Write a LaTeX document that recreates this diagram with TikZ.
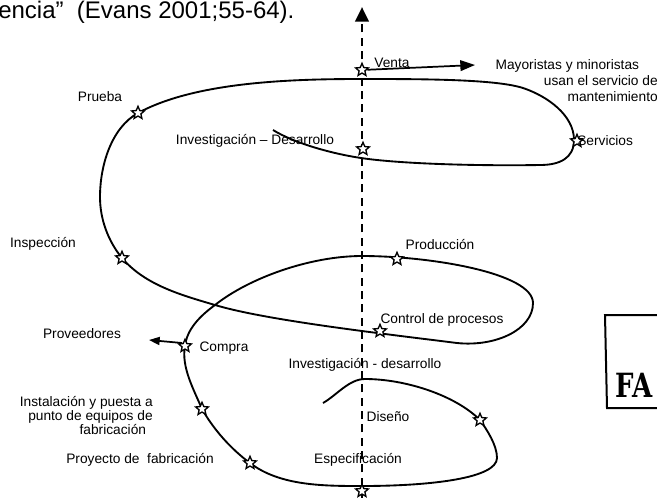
\documentclass[tikz,border=0pt]{standalone}
\usepackage{fontspec}
\setmainfont{Liberation Sans}
\newfontfamily\sellofont{DejaVu Serif}
\usetikzlibrary{shapes.geometric,arrows.meta}

\tikzset{
  etiqueta/.style={font=\fontsize{10.3}{10.5}\selectfont, inner sep=0pt},
  estrella/.style={star, star points=5, star point ratio=2.2, minimum size=10pt, inner sep=0pt, draw, line width=1pt, fill=white},
  flecha/.style={line width=1.3pt, -{Triangle[length=11pt,width=8pt]}},
  espiral/.style={line width=1.4pt},
  eje/.style={line width=2.2pt, dash pattern=on 6pt off 4pt, -{Triangle[length=11pt,width=10pt]}}
}

\begin{document}
\begin{tikzpicture}[x=0.75pt,y=0.75pt,yscale=-1,xscale=1]
\useasboundingbox (0,0) rectangle (657,497);
\clip (0,0) rectangle (657,497);
% puntos de la espiral
\coordinate (pdiseno) at (480,420);
\coordinate (pproyecto) at (250,463);
\coordinate (pinstal) at (202,409);
\coordinate (pcompra) at (185,346);
\coordinate (pinspec) at (122,258);
\coordinate (pprueba) at (138,113);
%Straight Lines (eje)
\coordinate (ejebajo) at (362,499);
\coordinate (ejetope) at (362,7);
\draw [eje] (ejebajo) -- (ejetope);
%Curve Lines (espiral)
\draw [espiral] (323,403) .. controls (337,395) and (349,379) .. (365,379)
  .. controls (405,379) and (455,395) .. (pdiseno)
  .. controls (487,430) and (497,445) .. (497,458)
  .. controls (497,478) and (432,486) .. (362,486)
  .. controls (324,486) and (280,486) .. (pproyecto)
  .. controls (231,449) and (214,430) .. (pinstal)
  .. controls (194,390) and (181,367) .. (pcompra)
  .. controls (187,329) and (200,316) .. (215,305)
  .. controls (249,278) and (310,256) .. (362,256)
  .. controls (430,256) and (533,273) .. (533,303)
  .. controls (533,330) and (495,347) .. (457,343)
  .. controls (377,333) and (265,320) .. (215,305)
  .. controls (181,295) and (145,285) .. (pinspec)
  .. controls (108,241) and (100,219) .. (100,197)
  .. controls (100,166) and (111,128) .. (pprueba)
  .. controls (195,82) and (290,79) .. (361,79)
  .. controls (420,79) and (495,79) .. (523,88)
  .. controls (547,96) and (574,115) .. (574,140)
  .. controls (574,158) and (560,165) .. (540,165)
  .. controls (480,166) and (401,164) .. (361,158)
  .. controls (331,153.5) and (294,143) .. (273,130);
% Estrellas
\node (sventa) [estrella] at (362,70) {};
\node (sinvdes) [estrella] at (363,149) {};
\node (sservicios) [estrella] at (577,141) {};
\node (sprueba) [estrella] at (pprueba) {};
\node (sinspec) [estrella] at (pinspec) {};
\node (sproduccion) [estrella] at (397,259) {};
\node (scontrol) [estrella] at (380,331) {};
\node (scompra) [estrella] at (pcompra) {};
\node (sinstal) [estrella] at (pinstal) {};
\node (sproyecto) [estrella] at (pproyecto) {};
\node (sdiseno) [estrella] at (pdiseno) {};
\node (sespecif) [estrella] at (362,491) {};
%Straight Lines
\coordinate (ventafin) at (475,65);
\draw [flecha] (sventa) -- (ventafin);
\coordinate (provfin) at (149,340);
\draw [flecha, -{Triangle[length=8pt,width=6pt]}] (scompra.north west) -- (provfin);
% Text Node
\draw (-2,18) node (cita) [font=\fontsize{18}{20}\selectfont, inner sep=0pt, anchor=base west] {encia”\ \ (Evans 2001;55-64).};
% Text Node
\draw (100,97) node (prueba) [etiqueta] {Prueba};
% Text Node
\draw (255,141) node (invdesa) [etiqueta] {Investigación – Desarrollo};
% Text Node
\draw (392,63) node (venta) [etiqueta] {Venta};
% Text Node
\draw (658,81) node (mayoristas) [etiqueta, font=\fontsize{10.3}{12}\selectfont, align=right, anchor=east] {Mayoristas y minoristas\hspace*{14pt}\\usan el servicio de\\mantenimiento};
% Text Node
\draw (577,141) node (servicios) [etiqueta, anchor=west] {Servicios};
% Text Node
\draw (43,244) node (inspeccion) [etiqueta] {Inspección};
% Text Node
\draw (440,245) node (produccion) [etiqueta] {Producción};
% Text Node
\draw (442,320) node (control) [etiqueta] {Control de procesos};
% Text Node
\draw (82,334) node (proveedores) [etiqueta] {Proveedores};
% Text Node
\draw (224,348) node (compra) [etiqueta] {Compra};
% Text Node
\draw (365,365) node (invdesb) [etiqueta] {Investigación - desarrollo};
% Text Node
\draw (153,416) node (instalacion) [etiqueta, align=right, anchor=east] {Instalación y puesta a\\punto de equipos de\hspace*{5pt}\\fabricación\hspace*{5pt}};
% Text Node
\draw (140,460) node (proyecto) [etiqueta] {Proyecto de\ \ fabricación};
% Text Node
\draw (388,417) node (diseno) [etiqueta] {Diseño};
% Text Node
\draw (358,460) node (especif) [etiqueta] {Especificación};
%Shape: sello
\draw [line width=1.5pt] (700,315) -- (605,315) -- (607,408) -- (700,408);
\draw (615,397) node (sello) [font=\sellofont\bfseries\fontsize{25}{25}\selectfont, inner sep=0pt, anchor=base west, xscale=0.78] {FA};
\end{tikzpicture}
\end{document}
